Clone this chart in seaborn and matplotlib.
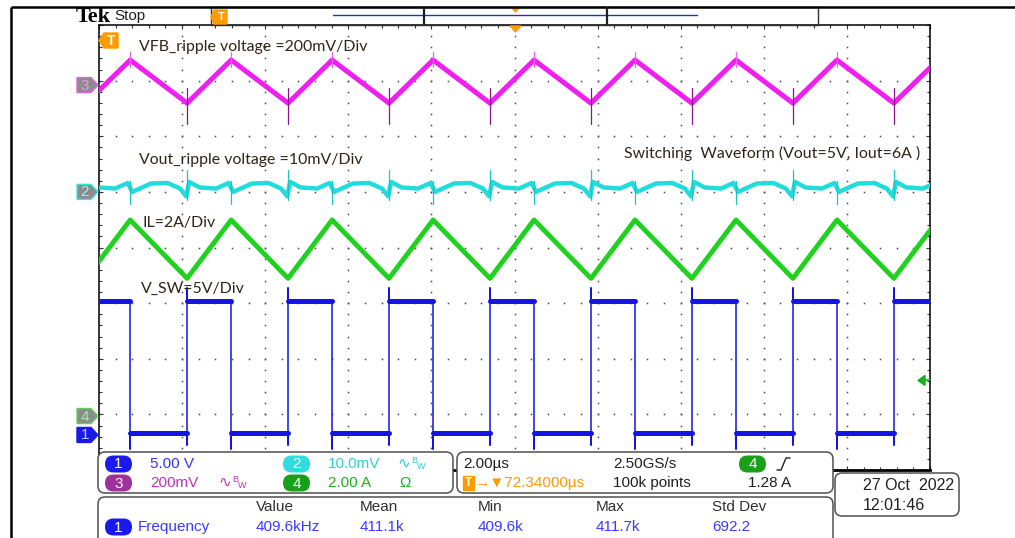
import numpy as np
import pandas as pd
import matplotlib
matplotlib.use("Agg")
import matplotlib.pyplot as plt
from matplotlib.patches import FancyBboxPatch, Polygon, Rectangle
import seaborn as sns

# ---------------- captured data ----------------
# switching edges of the buck converter (µs from the left edge of the screen)
rise_times = [-0.31, 2.12, 4.55, 6.98, 9.41, 11.84, 14.27, 16.70, 19.13]
fall_times = [0.75, 3.18, 5.61, 8.04, 10.47, 12.90, 15.33, 17.76, 20.19]

# CH1  V_SW (V)
sw_high = 12.0
sw_low = 0.2
sw_overshoot = 13.2
sw_undershoot = -1.3
sw_predip = -0.9

# CH4  inductor current IL (A)
il_peak = 7.05
il_valley = 4.95

# CH3  VFB ripple (mV)
vfb_peak = 90.0
vfb_valley = -65.0
vfb_rise_spike = [-140.0, -10.0]
vfb_fall_spike = [65.0, 118.0]

# CH2  Vout ripple (mV): samples after the turn-on edge and after the turn-off edge
vout_on_t = [0.05, 0.30, 0.70, 1.00]
vout_on_mv = [1.8, 0.8, 0.6, 1.6]
vout_off_t = [0.05, 0.50, 0.90, 1.20, 1.35]
vout_off_mv = [0.0, 1.5, 1.6, 0.6, -0.8]
vout_rise_spike = [-1.5, 4.0]
vout_fall_spike = [-2.2, 2.0]

# channel settings: volts (or amps) per division and ground marker position (div)
ch_scale = {"1": 5.0, "2": 10.0, "3": 200.0, "4": 2.0}
ch_offset = {"1": -3.37, "2": 1.0, "3": 2.92, "4": -3.03}
trig_level = 1.28  # A, on CH4

ch_color = {"1": "#1414e6", "2": "#22dcdc", "3": "#f01ef0", "4": "#1ed21e"}

# ---------------- figure geometry (pixels) ----------------
W, H = 1015, 538
GL, GR, GT, GB = 99, 930, 25, 470
DIV_PX = (GB - GT) / 8.0
YC = (GT + GB) / 2.0


def ypx(div):
    return YC - div * DIV_PX


sns.set_theme(style="white")
plt.rcParams["font.family"] = ["Liberation Sans", "DejaVu Sans"]

fig = plt.figure(figsize=(W / 100, H / 100), dpi=100)
fig.patch.set_facecolor("white")
ax = fig.add_axes([GL / W, 1 - GB / H, (GR - GL) / W, (GB - GT) / H])
ax.set_xlim(0, 20)
ax.set_ylim(-4, 4)
ax.set_facecolor("white")

# graticule: dotted division lines
for gx in np.arange(2, 20, 2):
    gy = np.arange(-4, 4.01, 0.2)
    ax.plot(np.full_like(gy, gx), gy, ls="none", marker="s", ms=1.1, color="#484848", mew=0, zorder=1)
for gy0 in np.arange(-3, 4, 1):
    gx = np.arange(0, 20.01, 0.4)
    ax.plot(gx, np.full_like(gx, gy0), ls="none", marker="s", ms=1.1, color="#484848", mew=0, zorder=1)

ax.set_xticks(np.arange(0, 20.01, 2))
ax.set_xticks(np.arange(0, 20.01, 0.4), minor=True)
ax.set_yticks(np.arange(-4, 4.01, 1))
ax.set_yticks(np.arange(-4, 4.01, 0.2), minor=True)
ax.tick_params(which="both", direction="in", top=True, right=True, bottom=True, left=True,
               labelbottom=False, labelleft=False, color="#303030", width=0.8)
ax.tick_params(which="major", length=3)
ax.tick_params(which="minor", length=2.5)
for side, sp in ax.spines.items():
    sp.set_color("black")
    sp.set_linewidth(1.1)
ax.spines["bottom"].set_linewidth(2.0)


def to_div(vals, ch):
    return np.asarray(vals, dtype=float) / ch_scale[ch] + ch_offset[ch]


def draw(t, v, unit, ch, color, lw, z):
    df = pd.DataFrame({"t": t, "v": to_div(v, ch), "u": unit})
    sns.lineplot(data=df, x="t", y="v", units="u", estimator=None, sort=False,
                 color=color, lw=lw, ax=ax, legend=False, zorder=z)


# ---- CH1 V_SW ----
t, v = [], []
for r, f in zip(rise_times, fall_times):
    t += [r, r, r, r, f, f, f]
    v += [sw_low, sw_predip, sw_overshoot, sw_high, sw_high, sw_undershoot, sw_low]
draw(t, v, [0] * len(t), "1", ch_color["1"], 1.1, 4)
t, v, u = [], [], []
for i, (r, f) in enumerate(zip(rise_times, fall_times)):
    t += [r, f]
    v += [sw_high, sw_high]
    u += [2 * i, 2 * i]
    if i + 1 < len(rise_times):
        t += [f, rise_times[i + 1]]
        v += [sw_low, sw_low]
        u += [2 * i + 1, 2 * i + 1]
draw(t, v, u, "1", ch_color["1"], 3.6, 4)

# ---- CH4 IL ----
t, v = [], []
for r, f in zip(rise_times, fall_times):
    t += [r, f]
    v += [il_valley, il_peak]
draw(t, v, [0] * len(t), "4", ch_color["4"], 3.5, 5)

# ---- CH3 VFB ----
t, v = [], []
for r, f in zip(rise_times, fall_times):
    t += [r, f]
    v += [vfb_valley, vfb_peak]
draw(t, v, [0] * len(t), "3", ch_color["3"], 3.6, 5)
t, v, u = [], [], []
for i, r in enumerate(rise_times):
    t += [r, r]
    v += vfb_rise_spike
    u += [i, i]
draw(t, v, u, "3", "#8c148c", 0.9, 6)
t, v, u = [], [], []
for i, f in enumerate(fall_times):
    t += [f, f]
    v += vfb_fall_spike
    u += [i, i]
draw(t, v, u, "3", "#f060f0", 0.9, 6)

# ---- CH2 Vout ripple ----
t, v = [], []
for r, f in zip(rise_times, fall_times):
    t += [r + dt for dt in vout_on_t]
    v += vout_on_mv
    t += [f + dt for dt in vout_off_t]
    v += vout_off_mv
draw(t, v, [0] * len(t), "2", ch_color["2"], 3.2, 5)
t, v, u = [], [], []
for i, (r, f) in enumerate(zip(rise_times, fall_times)):
    t += [r, r]
    v += vout_rise_spike
    u += [2 * i, 2 * i]
    t += [f, f]
    v += vout_fall_spike
    u += [2 * i + 1, 2 * i + 1]
draw(t, v, u, "2", "#1cc4c4", 0.9, 6)

ax.set_xlabel("")
ax.set_ylabel("")

# ---------------- screen furniture ----------------
ui = fig.add_axes([0, 0, 1, 1], zorder=5)
ui.set_xlim(0, W)
ui.set_ylim(H, 0)
ui.axis("off")
ui.patch.set_alpha(0)

# outer frame
ui.plot([11, W], [7, 7], color="black", lw=1.8, solid_capstyle="butt")
ui.plot([11, 11], [7, H], color="black", lw=1.8, solid_capstyle="butt")

ui.text(76, 16.5, "Tek", fontsize=16, fontweight="bold", family="Liberation Serif", va="center", color="black")
ui.text(114, 16, "Stop", fontsize=11, va="center", color="#202020")

# record view bar
ui.add_patch(Rectangle((211, 7), 607, 18, fill=False, ec="#303030", lw=1.0))
ui.plot([333, 697], [15, 15], color="#2030d0", lw=1.0)
ui.plot([424, 424], [8, 24], color="#202020", lw=1.6)
ui.plot([607, 607], [8, 24], color="#202020", lw=1.6)
ui.add_patch(Polygon([[512, 8], [519, 8], [515.5, 12]], closed=True, color="#ff9a00"))
ui.add_patch(Polygon([[510, 26], [521, 26], [515.5, 32]], closed=True, color="#ff9a00", zorder=6))
ui.add_patch(Polygon([[214, 10], [227, 10], [227, 24], [214, 24], [211, 17]], closed=True, color="#ff9a00"))
ui.text(221, 17.5, "T", fontsize=8, color="white", ha="center", va="center", fontweight="bold")

# trigger position marker inside graticule
ui.add_patch(Polygon([[104, 33], [118, 33], [118, 48], [104, 48], [99, 40.5]], closed=True, color="#ff9a00"))
ui.text(111, 41, "T", fontsize=10, color="white", ha="center", va="center", fontweight="bold")


def ch_marker(ch, fill, digit, edge):
    y = ypx(ch_offset[ch])
    ui.add_patch(Polygon([[77, y - 7.5], [91, y - 7.5], [98, y], [91, y + 7.5], [77, y + 7.5]],
                         closed=True, fc=fill, ec=edge, lw=1.0))
    ui.text(85, y + 0.5, ch, fontsize=11, color=digit, ha="center", va="center")


ch_marker("3", "#8c8c8c", "#f090f0", "#e060e0")
ch_marker("2", "#8c8c8c", "#90f8f8", "#40e0e0")
ch_marker("4", "#8c8c8c", "#a0f0a0", "#60d060")
ch_marker("1", "#1a1ae8", "#c0c8ff", "#1a1ae8")

# CH4 trigger level arrow on the right edge
ty = ypx(trig_level / ch_scale["4"] + ch_offset["4"])
ui.add_patch(Polygon([[918, ty], [925, ty - 5], [925, ty + 5]], closed=True, color="#18b018"))
ui.plot([924, 930], [ty, ty], color="#18b018", lw=1.2)

# annotations
note_kw = dict(fontsize=11.4, family=["Lato", "DejaVu Sans"], color="#2e2418", va="center")
ui.text(139, 47, "VFB_ripple voltage =200mV/Div", **note_kw)
ui.text(139, 160, "Vout_ripple voltage =10mV/Div", **note_kw)
ui.text(624, 153, "Switching  Waveform (Vout=5V, Iout=6A )", **note_kw)
ui.text(143, 223, "IL=2A/Div", **note_kw)
ui.text(141, 289, "V_SW=5V/Div", **note_kw)


# ---------------- readout panels ----------------
def panel(x0, y0, x1, y1):
    ui.add_patch(FancyBboxPatch((x0, y0), x1 - x0, y1 - y0, boxstyle="round,pad=0,rounding_size=7",
                                fc="white", ec="#505050", lw=1.1, zorder=7))


def pill(x, y, s, color):
    ui.add_patch(FancyBboxPatch((x, y - 8.5), 27, 17, boxstyle="round,pad=0,rounding_size=8.5",
                                fc=color, ec="none", zorder=8))
    ui.text(x + 13.5, y + 0.5, s, fontsize=11, color="white", ha="center", va="center", zorder=9)


def txt(x, y, s, color, size=11):
    ui.text(x, y, s, fontsize=size, color=color, ha="left", va="center", zorder=9)


def bw(x, y, color):
    txt(x, y, "∿", color, 11)
    ui.text(x + 14, y - 3.5, "B", fontsize=6.5, color=color, va="center", zorder=9)
    ui.text(x + 20, y + 2.5, "W", fontsize=6.5, color=color, va="center", zorder=9)


panel(98, 452, 453, 493)
panel(457, 452, 833, 493)
panel(98, 497, 833, 545)
panel(835, 473, 959, 516)

r1, r2 = 464, 483
pill(105, r1, "1", "#1a1aee")
txt(150, r1, "5.00 V", "#3434f0")
pill(283, r1, "2", "#30dcdc")
txt(328, r1, "10.0mV", "#30d0d0")
bw(397, r1, "#30d0d0")
pill(105, r2, "3", "#a0309a")
txt(150, r2, "200mV", "#c030c0")
bw(218, r2, "#c030c0")
pill(283, r2, "4", "#18a018")
txt(328, r2, "2.00 A", "#20b020")
txt(399, r2, "Ω", "#20b020")

txt(463, r1, "2.00µs", "#202020")
txt(613, r1, "2.50GS/s", "#202020")
pill(739, r1, "4", "#18a018")
ui.plot([777, 781, 786, 790], [470, 470, 458, 458], color="#202020", lw=1.0, zorder=9)
ui.add_patch(Rectangle((463, r2 - 7), 11, 14, color="#ff9a00", zorder=8))
ui.text(468.5, r2 + 0.5, "T", fontsize=8.5, color="white", ha="center", va="center", fontweight="bold", zorder=9)
txt(475, r2, "→▼72.34000µs", "#ff9a00")
txt(613, r2, "100k points", "#202020")
txt(748, r2, "1.28 A", "#202020")

h1, h2 = 507, 527
for x, s in [(256, "Value"), (360, "Mean"), (478, "Min"), (596, "Max"), (712, "Std Dev")]:
    txt(x, h1, s, "#303030")
pill(105, h2, "1", "#1a1aee")
txt(138, h2, "Frequency", "#3a3aff")
for x, s in [(256, "409.6kHz"), (360, "411.1k"), (478, "409.6k"), (596, "411.7k"), (712, "692.2")]:
    txt(x, h2, s, "#3a3aff")

txt(863, 485, "27 Oct  2022", "#202020", 11.5)
txt(863, 505, "12:01:46", "#202020", 11.5)

fig.savefig("out.png", dpi=100, facecolor="white")
